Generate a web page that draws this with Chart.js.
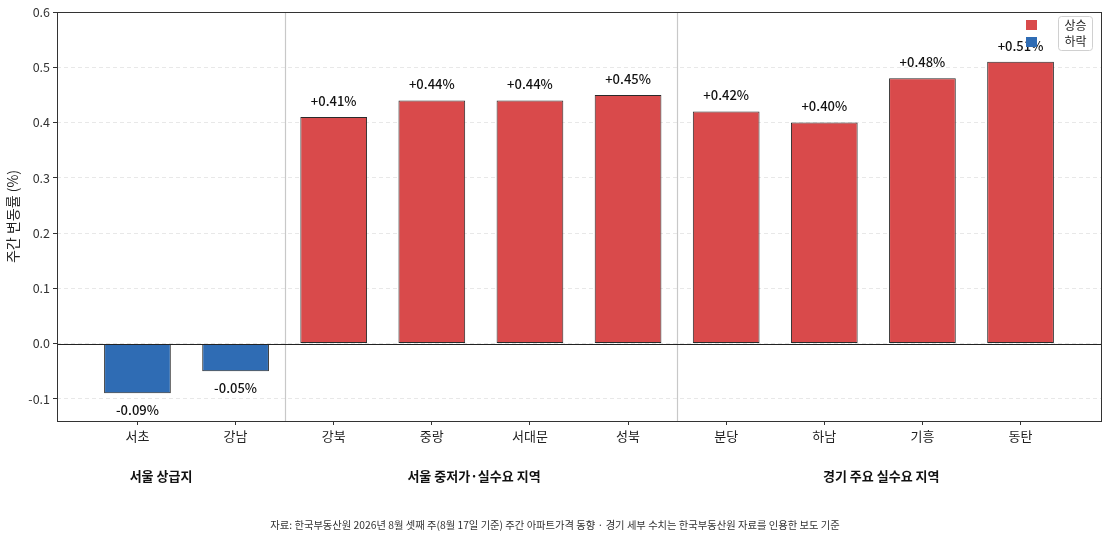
<!DOCTYPE html>
<html><head><meta charset="utf-8">
<script src="https://cdn.jsdelivr.net/npm/chart.js@4.4.1/dist/chart.umd.min.js"></script>
<style>html,body{margin:0;padding:0;background:#fff}#wrap{width:1109px;height:539px}</style>
</head><body><div id="wrap"><canvas id="c" width="1109" height="539"></canvas></div>
<script>
const categories = ['서초','강남','강북','중랑','서대문','성북','분당','하남','기흥','동탄'];
const values = [-0.09,-0.05,0.41,0.44,0.44,0.45,0.42,0.40,0.48,0.51];
const groupNames = ['서울 상급지','서울 중저가·실수요 지역','경기 주요 실수요 지역'];
const groupAnchors = [0.24,3.43,7.58];
const separators = [1.5,5.5];
const yTicks = [-0.1,0,0.1,0.2,0.3,0.4,0.5,0.6];
const legendLabels = ['상승','하락'];
const source = '자료: 한국부동산원 2026년 8월 셋째 주(8월 17일 기준) 주간 아파트가격 동향 · 경기 세부 수치는 한국부동산원 자료를 인용한 보도 기준';

const RED='#d94a4b', BLUE='#2f6cb4';
const FONT='"Noto Sans CJK KR","Noto Sans",sans-serif';

const deco = {
  id:'deco',
  beforeDatasetsDraw(chart){
    const {ctx, chartArea:a, scales:{x,y}} = chart;
    ctx.save();
    ctx.strokeStyle='#c8c8c8'; ctx.lineWidth=1.2;
    separators.forEach(s=>{const px=Math.round(x.getPixelForValue(s))+0.5;ctx.beginPath();ctx.moveTo(px,a.top);ctx.lineTo(px,a.bottom);ctx.stroke();});
    ctx.restore();
  },
  afterDatasetsDraw(chart){
    const {ctx, chartArea:a, scales:{x,y}} = chart;
    ctx.save();
    const zy=Math.round(y.getPixelForValue(0))+0.5;
    ctx.strokeStyle='#222';ctx.lineWidth=1.2;ctx.beginPath();ctx.moveTo(a.left,zy);ctx.lineTo(a.right,zy);ctx.stroke();
    ctx.strokeStyle='#333';ctx.lineWidth=1;
    ctx.strokeRect(Math.round(a.left)+0.5,Math.round(a.top)+0.5,Math.round(a.right-a.left),Math.round(a.bottom-a.top));
    ctx.fillStyle='#111';ctx.font='500 13px '+FONT;ctx.textAlign='center';ctx.textBaseline='middle';
    values.forEach((v,i)=>{
      const px=x.getPixelForValue(i);
      const txt=(v>=0?'+':'')+v.toFixed(2)+'%';
      const py=v>=0? y.getPixelForValue(v+0.029) : y.getPixelForValue(v-0.03);
      ctx.fillText(txt,px,py);
    });
    ctx.font='bold 13px '+FONT;ctx.fillStyle='#111';
    groupNames.forEach((g,i)=>ctx.fillText(g,x.getPixelForValue(groupAnchors[i]),476));
    ctx.font='10.3px '+FONT;ctx.fillStyle='#333';
    ctx.fillText(source,555,525);
    const bx=1058,by=16,bw=34,bh=34;
    ctx.fillStyle='rgba(255,255,255,0.85)';ctx.strokeStyle='#d0d0d0';ctx.lineWidth=1;
    ctx.beginPath();ctx.roundRect(bx+0.5,by+0.5,bw,bh,3);ctx.fill();ctx.stroke();
    ctx.fillStyle=RED;ctx.fillRect(1026,20,11,10);
    ctx.fillStyle=BLUE;ctx.fillRect(1026,37,11,10);
    ctx.fillStyle='#222';ctx.font='12px '+FONT;
    ctx.fillText(legendLabels[0],bx+bw/2+0.5,25);
    ctx.fillText(legendLabels[1],bx+bw/2+0.5,41);
    ctx.restore();
  }
};

new Chart(document.getElementById('c'),{
  type:'bar',
  data:{datasets:[{
    data:values.map((v,i)=>({x:i,y:v})),
    backgroundColor:values.map(v=>v>=0?RED:BLUE),
    borderColor:'#2a2a2a',borderWidth:1,
    categoryPercentage:1,barPercentage:0.68,borderSkipped:false
  }]},
  options:{
    responsive:false,animation:false,devicePixelRatio:1,
    layout:{padding:{top:12,right:8,left:0,bottom:0}},
    plugins:{legend:{display:false},tooltip:{enabled:false}},
    scales:{
      x:{type:'linear',min:-0.82,max:9.82,offset:false,
        afterBuildTicks(s){s.ticks=categories.map((c,i)=>({value:i}));},
        afterFit(s){s.height=118;},
        grid:{display:true,offset:false,drawOnChartArea:false,tickLength:4,color:'#333'},
        border:{display:false},
        ticks:{autoSkip:false,maxRotation:0,padding:3,color:'#222',font:{size:13,family:FONT},
          callback:(v)=>categories[v]}
      },
      y:{min:-0.14,max:0.6,
        afterBuildTicks(s){s.ticks=yTicks.map(v=>({value:v}));},
        afterFit(s){s.width=57;},
        grid:{color:'#e8e8e8',tickLength:4,tickColor:'#333',tickBorderDash:[0,0],drawTicks:true},
        border:{display:false,dash:[4,3]},
        ticks:{color:'#333',padding:3,font:{size:12.5,family:FONT},callback:(v)=>v.toFixed(1)},
        title:{display:true,text:'주간 변동률 (%)',color:'#222',font:{size:14,family:FONT},padding:{top:4,bottom:0}}
      }
    }
  },
  plugins:[deco]
});
</script></body></html>
